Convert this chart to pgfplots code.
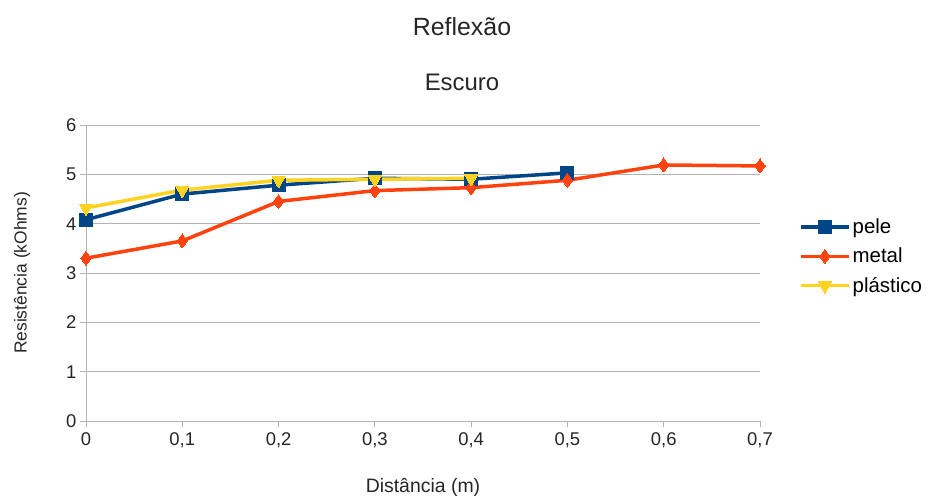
\documentclass[border=0pt]{standalone}
\usepackage{pgfplots}
\pgfplotsset{compat=1.18}
\usepackage{fontspec}
\setmainfont{Liberation Sans}

\definecolor{pele}{HTML}{004586}
\definecolor{metal}{HTML}{FF420E}
\definecolor{plastico}{HTML}{FFD320}
\definecolor{gridgray}{HTML}{B3B3B3}

\begin{document}
\begin{tikzpicture}
% frame of the whole figure
\path[use as bounding box] (-86bp,-77bp) rectangle (842bp,421bp);
\begin{axis}[
  at={(0,0)}, anchor=south west,
  scale only axis,
  width=674bp, height=296bp,
  xmin=0, xmax=0.7, ymin=0, ymax=6,
  xtick={0,0.1,...,0.7},
  ytick={0,1,...,6},
  axis lines*=left,
  axis line style={gridgray, line width=0.8bp},
  ymajorgrids,
  major grid style={gridgray, line width=0.8bp},
  tick style={gridgray, line width=0.8bp},
  tick align=outside,
  major tick length=6bp,
  xticklabel style={font=\fontsize{18.5}{20}\selectfont, text=black!85, yshift=-2bp},
  yticklabel style={font=\fontsize{18.5}{20}\selectfont, text=black!85},
  /pgf/number format/assume math mode=true,
  /pgf/number format/use comma,
  /pgf/number format/fixed,
  xlabel={Distância (m)},
  ylabel={Resistência (kOhms)},
  xlabel style={font=\fontsize{19.5}{20}\selectfont, text=black!85, at={(0.5,0)}, anchor=center, yshift=-66bp},
  ylabel style={font=\fontsize{17.5}{20}\selectfont, text=black!85, at={(0,0.5)}, anchor=center, rotate=0, yshift=64bp},
  legend style={draw=none, fill=none, at={(1,0.556)}, anchor=west, xshift=36bp,
    font=\fontsize{20.5}{22}\selectfont, row sep=9bp,
    /tikz/every even column/.append style={column sep=2bp}},
  legend cell align=left,
  legend image code/.code={
    \draw[mark repeat=2, mark phase=2] plot coordinates {(0bp,0bp) (24bp,0bp) (48bp,0bp)};
  },
  clip=false,
  every axis plot/.append style={line width=3.5bp},
]
\addplot[color=pele, mark=square*, mark size=6.5bp, mark options={solid, line width=0bp}]
  coordinates {(0,4.08) (0.1,4.6) (0.2,4.78) (0.3,4.92) (0.4,4.9) (0.5,5.03)};
\addlegendentry{pele}
\addplot[color=metal, mark=diamond*, mark size=7bp, mark options={solid, line width=0bp}]
  coordinates {(0,3.3) (0.1,3.65) (0.2,4.45) (0.3,4.67) (0.4,4.73) (0.5,4.88) (0.6,5.19) (0.7,5.17)};
\addlegendentry{metal}
\addplot[color=plastico, mark=triangle*, mark size=7.5bp, mark options={solid, rotate=180, line width=0bp}]
  coordinates {(0,4.32) (0.1,4.68) (0.2,4.88) (0.3,4.9) (0.4,4.92)};
\addlegendentry{plástico}
\end{axis}
\node[font=\fontsize{25}{28}\selectfont, text=black!85] at (376bp,394bp) {Reflexão};
\node[font=\fontsize{24}{28}\selectfont, text=black!85] at (376bp,339bp) {Escuro};
\end{tikzpicture}
\end{document}
